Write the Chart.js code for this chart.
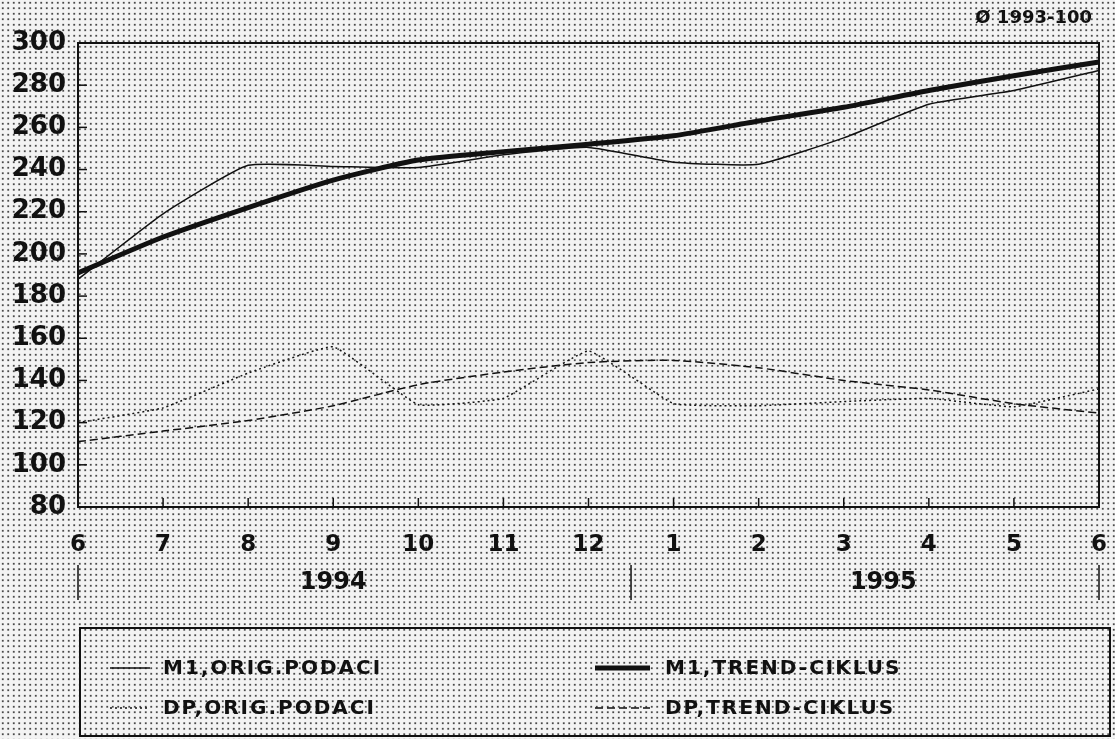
<!DOCTYPE html>
<html>
<head>
<meta charset="utf-8">
<script src="https://cdn.jsdelivr.net/npm/chart.js@4.4.0/dist/chart.umd.min.js"></script>
<style>
body {
    margin: 0;
    background-color: #f3f3f3;
    background-image: radial-gradient(circle, #4a4a4a 0.8px, transparent 1.3px);
    background-size: 5.5px 5.5px;
}
#wrap { width: 1115px; height: 739px; }
</style>
</head>
<body>
<div id="wrap"><canvas id="grafico"></canvas></div>
<script>
// mjeseci 6/1994 - 6/1995
var meseci = ['6', '7', '8', '9', '10', '11', '12', '1', '2', '3', '4', '5', '6'];
var godine = ['1994', '1995'];
var m1Orig  = [188, 219, 242, 241.5, 241, 247, 250.5, 243.5, 242.5, 255, 271, 277.5, 287];
var m1Trend = [191, 208, 222, 235, 244.5, 248.5, 252, 256, 263, 269.5, 277.5, 284.5, 291];
var dpOrig  = [120, 127, 143.5, 156, 128.5, 131.5, 154, 129, 128, 130, 131.5, 127.5, 136];
var dpTrend = [111, 116, 121, 128, 138, 144, 148.5, 149.5, 146, 140, 135.5, 129, 124.5];
var baza = '\u00D8 1993-100';

var crno = '#111';

var okvir = {
    id: 'okvir',
    afterDraw: function (chart) {
        var c = chart.ctx;
        var a = chart.chartArea;
        var x = chart.scales.x;
        var y = chart.scales.y;
        c.save();
        c.strokeStyle = crno;
        c.lineWidth = 2;
        c.strokeRect(a.left, a.top, a.right - a.left, a.bottom - a.top);

        // kratke crtice prema unutra
        c.lineWidth = 1.5;
        y.ticks.forEach(function (t) {
            var py = y.getPixelForValue(t.value);
            c.beginPath();
            c.moveTo(a.left, py);
            c.lineTo(a.left + 9, py);
            c.stroke();
        });
        for (var i = 1; i < meseci.length - 1; i++) {
            var px = x.getPixelForValue(i);
            c.beginPath();
            c.moveTo(px, a.bottom);
            c.lineTo(px, a.bottom - 9);
            c.stroke();
        }

        // godine
        c.fillStyle = crno;
        c.font = 'bold 24px "DejaVu Sans"';
        c.textAlign = 'center';
        c.textBaseline = 'middle';
        c.fillText(godine[0], x.getPixelForValue(3), 583);
        c.fillText(godine[1], (x.getPixelForValue(9) + x.getPixelForValue(10)) / 2 - 3, 583);
        c.lineWidth = 1.5;
        [0, 6.5, 12].forEach(function (v) {
            var px = x.left + (x.getPixelForValue(1) - x.getPixelForValue(0)) * v;
            c.beginPath();
            c.moveTo(px, 565);
            c.lineTo(px, 600);
            c.stroke();
        });

        // baza indeksa
        c.font = 'bold 18px "DejaVu Sans"';
        c.textAlign = 'right';
        c.fillText(baza, 1092, 18);

        // legenda
        c.lineWidth = 2;
        c.strokeRect(80, 628, 1030, 108);
        c.font = 'bold 20px "DejaVu Sans"';
        c.textAlign = 'left';
        if ('letterSpacing' in c) c.letterSpacing = '2px';
        chart.data.datasets.forEach(function (ds, i) {
            var col = i % 2, red = Math.floor(i / 2);
            var x0 = col === 0 ? 110 : 595;
            var x1 = col === 0 ? 150 : 650;
            var tx = col === 0 ? 163 : 665;
            var ty = 668 + red * 40;
            c.beginPath();
            c.setLineDash(ds.borderDash || []);
            c.lineWidth = ds.borderWidth;
            c.moveTo(x0, ty);
            c.lineTo(x1, ty);
            c.stroke();
            c.setLineDash([]);
            c.fillText(ds.label, tx, ty + 1);
        });
        c.restore();
    }
};

var ctx = document.getElementById('grafico');
var myChart = new Chart(ctx, {
    type: 'line',
    data: {
        labels: meseci,
        datasets: [
            {
                label: 'M1,ORIG.PODACI',
                data: m1Orig,
                borderColor: crno,
                borderWidth: 1.5,
                tension: 0.15
            },
            {
                label: 'M1,TREND-CIKLUS',
                data: m1Trend,
                borderColor: crno,
                borderWidth: 5,
                tension: 0.2
            },
            {
                label: 'DP,ORIG.PODACI',
                data: dpOrig,
                borderColor: crno,
                borderWidth: 1.5,
                borderDash: [2, 3],
                tension: 0.1
            },
            {
                label: 'DP,TREND-CIKLUS',
                data: dpTrend,
                borderColor: crno,
                borderWidth: 1.5,
                borderDash: [8, 4],
                tension: 0.2
            }
        ]
    },
    options: {
        responsive: true,
        maintainAspectRatio: false,
        animation: false,
        layout: { padding: { left: 0, right: 0, top: 43, bottom: 0 } },
        elements: { point: { radius: 0 } },
        plugins: {
            legend: { display: false },
            tooltip: { enabled: false }
        },
        scales: {
            x: {
                grid: { display: false, drawTicks: false },
                border: { display: false },
                afterFit: function (s) { s.height = 232; s.paddingRight = 16; },
                ticks: {
                    color: crno,
                    padding: 24,
                    autoSkip: false,
                    maxRotation: 0,
                    font: { family: 'DejaVu Sans', weight: 'bold', size: 23 }
                }
            },
            y: {
                min: 80,
                max: 300,
                grid: { display: false, drawTicks: false },
                border: { display: false },
                afterFit: function (s) { s.width = 78; },
                ticks: {
                    stepSize: 20,
                    color: crno,
                    padding: 12,
                    font: { family: 'DejaVu Sans', weight: 'bold', size: 26 }
                }
            }
        }
    },
    plugins: [okvir]
});
</script>
</body>
</html>
